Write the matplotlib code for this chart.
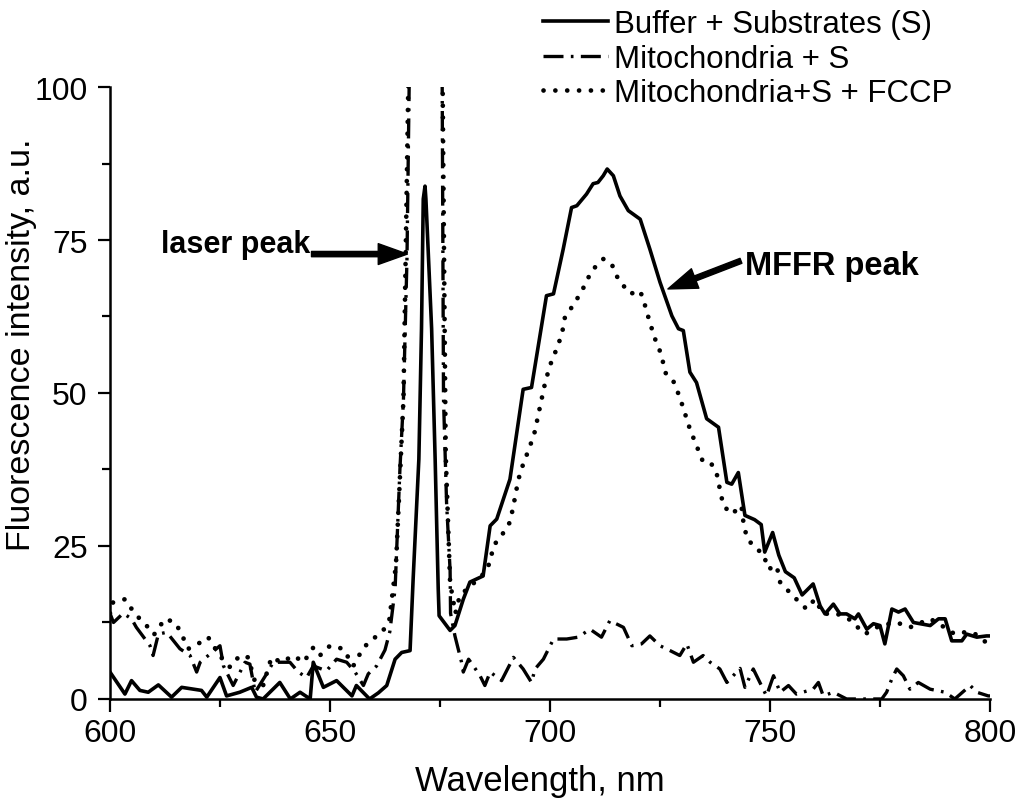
import matplotlib
matplotlib.use("Agg")
import matplotlib.pyplot as plt
import numpy as np

plt.rcParams['font.family'] = ['Liberation Sans', 'DejaVu Sans']

# ---- data ----
buffer_wl = [600, 603.4, 604.9, 606.8, 608.7, 611, 614, 616.3, 619, 620.8, 622, 625, 626.5, 629.5,
             632.2, 633.3, 634.8, 638.6, 641, 643.2, 645.5, 646.2, 648.5, 651.5, 655, 656, 659, 661,
             662.9, 664.8, 666.3, 668.2, 668.9, 670.2, 670.8, 671.2, 671.6, 671.8, 673.1, 673.9, 674.6,
             674.8, 677.3, 678.4, 680.3, 681.8, 684.8, 686.4, 687.9, 690.9, 693.9, 695.8, 699.2, 700.8,
             703, 704.9, 706.1, 708.3, 709.8, 710.9, 712.1, 713, 714.4, 715.9, 717.8, 720.5, 722.7, 725,
             727.7, 729.2, 730.3, 731.8, 733.3, 735.6, 738.3, 740.2, 741.3, 742.8, 744.3, 746.5, 748,
             748.8, 750.6, 752, 753.5, 755.5, 757.3, 759.8, 761.4, 762.5, 764.4, 765.9, 767.4, 769.3,
             770.1, 772, 773.5, 775, 776.1, 777.7, 779.2, 780.7, 782.6, 784.1, 786.4, 788.3, 789.8,
             791.3, 793.6, 794.7, 797, 799.2, 800]
buffer_int = [4.4, 0.8, 3, 1.4, 1.1, 2.3, 0.3, 1.9, 1.6, 1.4, 0.3, 3.5, 0.5, 1.1,
              1.9, 0.3, 0, 2.7, 0, 1.1, 0, 6, 1.9, 3, 0.5, 2.2, 0, 1,
              2.2, 6.5, 7.6, 7.9, 19.6, 39.2, 60.5, 81.7, 83.8, 81.7, 60.5, 39.2, 18,
              13.6, 11.2, 12, 16.3, 19.1, 20.1, 28.3, 29.4, 35.9, 50.6, 50.9, 65.9, 66.2,
              73.5, 80.3, 80.6, 82.5, 84.2, 84.4, 85.5, 86.6, 85.5, 82.2, 79.8, 78.4, 73.5, 68.1,
              62.6, 60.5, 60.2, 53.4, 51.7, 45.8, 44.4, 35.4, 35.1, 37, 30, 29.3, 28.5,
              24, 27.2, 23.5, 20.8, 19.8, 17, 18.8, 15.2, 13.9, 15.5, 13.9, 13.9, 13.1,
              13.9, 11.4, 12.3, 12, 9, 14.7, 14.2, 14.7, 12.5, 12.3, 12, 13.1, 13.1,
              9.5, 9.5, 10.6, 10.1, 10.3, 10.3]

mito_wl = [600, 600.8, 603, 604.9, 606, 609.1, 609.8, 611, 612.9, 615.9, 618.2, 619.7, 620.5, 623,
           625, 625.8, 628, 630.7, 631.8, 633, 635.6, 637.1, 640.9, 642.8, 644.7, 646.2, 649.2,
           651.5, 653.8, 655.7, 657.6, 658.7, 660.6, 662.5, 663.6, 664.8, 665.9, 666.7, 667.5, 668,
           671.6, 675.5, 675.8, 676.5, 677.3, 677.4, 678.4, 679.9, 680.3, 681.5, 682.5, 684.1, 685.2,
           686.4, 689, 691.7, 693.9, 695.8, 696.6, 698.5, 700.8, 703.8, 706.4, 709.1, 711.7, 713.6,
           716.7, 718.6, 720.8, 722.7, 725, 727.3, 729.5, 731.1, 732.6, 734.8, 736.4, 738.6, 740.2,
           743.2, 744.3, 746.2, 747.7, 749.2, 750.8, 752.3, 754.2, 756, 759.8, 761, 762.1, 764.4,
           767.4, 775.4, 776.5, 777.7, 778.8, 780.3, 781.8, 783.7, 786.4, 789.8, 792, 795.5, 797,
           799.6, 800]
mito_int = [14, 12.5, 14, 13.1, 11.7, 8.7, 7.1, 10.6, 10.9, 8.2, 7.1, 4.4, 6, 7.5,
            8.7, 5.4, 2.2, 6, 5.7, 1.1, 4.1, 6, 6, 4.4, 3.5, 5.4, 4.6,
            6.5, 6, 4.4, 2.2, 4.1, 5.4, 8, 11, 18, 37.6, 49, 72, 100.5,
            300, 100.5, 49, 32, 21, 14, 10.3, 6, 4.4, 6.5, 5.5, 3.8, 2.2,
            4.4, 3, 6.8, 4.9, 2.7, 4.9, 6.5, 9.8, 9.8, 10.1, 11.4, 10.1, 12.8,
            11.7, 8.7, 9, 10.3, 8.7, 7.9, 7.1, 9, 6, 7.1, 6, 4.9, 2.7,
            5, 1.9, 4.9, 2.7, 0.5, 3.8, 1.1, 2.2, 0.8, 1.6, 2.7, 0.5, 1.1,
            0, 0, 1.1, 3.3, 4.9, 3.8, 1.6, 2.7, 1.6, 1.1, 0, 2.2, 1.1,
            0.5, 0.5]

fccp_wl = [600, 600.4, 603.4, 605.7, 608.3, 610, 612.5, 614.8, 616, 617.8, 620, 622.3, 625, 627.3,
           629.5, 631.4, 633, 634.8, 636.7, 639, 641.7, 644, 646.2, 647.7, 650, 653, 655.3, 657.6,
           659.8, 662.1, 663.5, 665, 666.7, 667.8, 671.6, 675.6, 676.3, 677.3, 678.5, 679.5, 682,
           684.5, 686.4, 687.1, 689, 690.9, 691.7, 692.4, 693.2, 695.5, 696.6, 697.3, 698.1, 698.9,
           700, 701.5, 702.7, 703.4, 705.7, 707.6, 709.5, 712.1, 714, 715.5, 718.2, 720.5, 721.6,
           722.7, 723.9, 725.4, 726.1, 728, 729.5, 730.7, 731.8, 733.3, 734.8, 736.7, 737.9, 738.6,
           739.4, 741.3, 743.5, 743.9, 744.7, 746.4, 748.5, 749.6, 751.5, 752.3, 755, 758.3, 760.2,
           762.1, 765, 768, 771.6, 775, 778.8, 781.8, 786.4, 789, 792, 795, 797, 800]
fccp_int = [14, 15.7, 16.3, 13.9, 12, 10.5, 13.1, 12.5, 11, 8.2, 9, 10.1, 7, 5.2,
            7.1, 6.8, 2.7, 2.2, 6.8, 6, 7.1, 6, 8.4, 7.1, 8.7, 8.2, 5.4, 8.4,
            9.8, 11.2, 13, 22, 49, 100.5, 300, 100.5, 40, 19, 14, 16.9, 18.5,
            20.1, 22.3, 25, 26.7, 28.9, 31.6, 34.3, 37, 41.4, 43.8, 46.3, 49, 51.7,
            54.5, 57.2, 59.6, 62.4, 64.8, 67.2, 70, 71.9, 71.1, 68.6, 66.2, 66.7, 64.3,
            61.5, 58.8, 56.1, 53.4, 52, 49.3, 46.6, 44.1, 41.4, 38.7, 38.4, 36.8, 34.3,
            31.6, 30.2, 31.6, 29.2, 26.4, 24.8, 23.7, 21.2, 21.8, 19.1, 17, 14.7, 16.3,
            13.9, 14, 13, 10.6, 12, 12.5, 11.7, 13.1, 12, 10.6, 11, 10.5, 8.7]

labels = ["Buffer + Substrates (S)", "Mitochondria + S", "Mitochondria+S + FCCP"]
x_ticks = [600, 650, 700, 750, 800]
y_ticks = [0, 25, 50, 75, 100]

# ---- figure ----
fig = plt.figure(figsize=(10.22, 8.03), dpi=100)
ax = fig.add_axes([0.1076, 0.1283, 0.8611, 0.7621])

l1, = ax.plot(buffer_wl, buffer_int, color='black', lw=2.6, ls='-', solid_joinstyle='round')
l2, = ax.plot(mito_wl, mito_int, color='black', lw=2.4, ls=(0, (6, 2.2, 0.8, 2.2)))
l3, = ax.plot(fccp_wl, fccp_int, color='black', lw=3.4, ls=(0, (0.01, 2.5)),
              dash_capstyle='round')

ax.set_xlim(600, 800)
ax.set_ylim(0, 100)
ax.set_xticks(x_ticks)
ax.set_yticks(y_ticks)
ax.set_xticks([625, 675, 725, 775], minor=True)
ax.set_yticks([12.5, 37.5, 62.5, 87.5], minor=True)
ax.tick_params(axis='both', which='major', direction='out', length=9, width=1.6,
               labelsize=23, color='black')
ax.tick_params(axis='both', which='minor', direction='out', length=5.5, width=1.6)
ax.tick_params(axis='x', which='major', pad=5)
ax.tick_params(axis='y', which='major', pad=7)

for s in ['top', 'right']:
    ax.spines[s].set_visible(False)
for s in ['left', 'bottom']:
    ax.spines[s].set_linewidth(1.8)

ax.set_xlabel("Wavelength, nm", fontsize=25)
ax.set_ylabel("Fluorescence intensity, a.u.", fontsize=24.5)
ax.xaxis.set_label_coords(0.489, -0.107)
ax.yaxis.set_label_coords(-0.083, 0.58)

# annotations
ax.text(645.6, 74.4, "laser peak", fontsize=22, fontweight='bold', ha='right', va='center')
ax.annotate("", xy=(667.6, 72.7), xytext=(645.8, 72.7),
            arrowprops=dict(facecolor='black', edgecolor='black', width=3.8,
                            headwidth=15, headlength=21, shrink=0))
ax.text(744.3, 70.8, "MFFR peak", fontsize=23.5, fontweight='bold', ha='left', va='center')
ax.annotate("", xy=(726.8, 67.0), xytext=(743.4, 71.6),
            arrowprops=dict(facecolor='black', edgecolor='black', width=3.8,
                            headwidth=15, headlength=21, shrink=0))

fig.legend([l1, l2, l3], labels, loc='upper left', bbox_to_anchor=(0.531, 0.9875),
           frameon=False, fontsize=22.5, handlelength=2.1, handletextpad=0.17,
           labelspacing=0.15, borderpad=0, borderaxespad=0)

fig.savefig("out.png", dpi=100)
